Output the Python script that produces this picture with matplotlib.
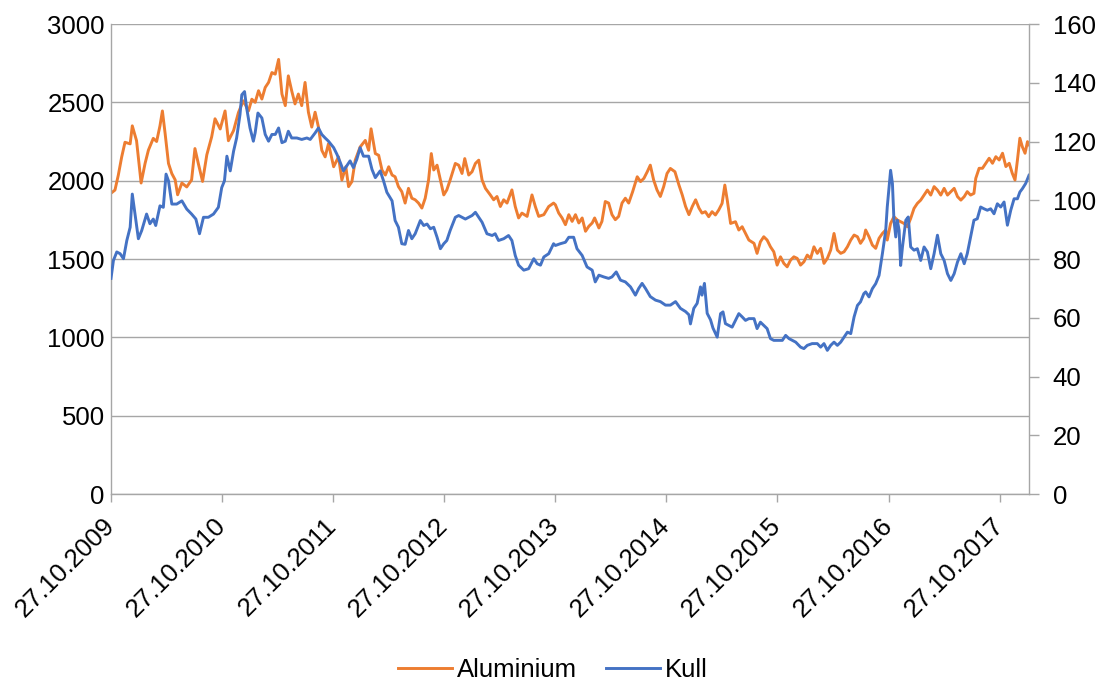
import matplotlib
matplotlib.use("Agg")
import matplotlib.pyplot as plt
import pandas as pd

# ---- data: aluminium price (USD/t, left axis) and coal price (USD/t, right axis)
start = pd.Timestamp("2009-10-27")

alu_days = [
    0, 13, 24, 35, 46, 63, 70, 84, 99, 112, 123, 139, 150, 161, 169, 178, 189, 200, 211, 219,
    233, 249, 265, 276, 287, 301, 315, 331, 342, 359, 375, 386, 403, 419, 435, 452, 463,
    474, 485, 496, 507, 518, 529, 540, 551, 562, 573, 583, 594, 605, 616, 627, 638, 649, 660, 671, 682,
    693, 704, 715, 732, 748, 759, 772, 781, 792, 803, 819, 836, 847, 855, 869, 880, 891, 902, 913, 924,
    934, 945, 956,
    967, 978, 989, 1000, 1011, 1022, 1033, 1044, 1053, 1061, 1072, 1083, 1094, 1104, 1115, 1132, 1143,
    1154, 1163, 1176, 1187, 1198, 1209, 1220, 1231, 1247, 1258, 1269, 1280, 1291, 1302, 1318, 1329,
    1340, 1351, 1368, 1384, 1395, 1406, 1423, 1439, 1455,
    1461, 1472, 1483, 1494, 1505, 1516, 1527, 1538, 1549, 1560, 1571, 1582, 1590, 1604, 1614, 1625,
    1636, 1647, 1658, 1669, 1680, 1691, 1702, 1715, 1730, 1741, 1752, 1763, 1773, 1784, 1795, 1806,
    1817, 1828, 1839, 1854, 1867, 1878, 1889, 1900, 1911, 1922, 1933, 1943,
    1954, 1965, 1976, 1987, 1998, 2009, 2018, 2026, 2037, 2053, 2064, 2075, 2086, 2097, 2114, 2124,
    2135, 2146, 2157, 2168, 2179, 2190, 2201, 2212, 2223, 2234, 2245, 2256, 2267, 2278, 2289, 2300,
    2311, 2322, 2333, 2344, 2355, 2366, 2377, 2388, 2399, 2410, 2421, 2432, 2443, 2454, 2464, 2475,
    2481, 2492, 2503, 2514, 2525, 2536, 2547, 2552, 2563, 2574, 2585, 2596, 2607, 2618, 2629, 2640,
    2651, 2662, 2673, 2684, 2695, 2706, 2717, 2728, 2739, 2750, 2761, 2772, 2783, 2794, 2805, 2815,
    2826, 2837, 2843, 2854, 2865, 2876, 2887, 2898, 2909, 2920, 2931, 2942, 2953, 2963, 2972, 2980,
    2988, 2996, 3005, 3013, 3022,
]
alu_usd = [
    1920, 1940, 2035, 2150, 2245, 2235, 2350, 2255, 1985, 2110, 2195, 2270, 2250, 2350, 2445, 2300,
    2110, 2045, 2005, 1910, 1985, 1960, 2005, 2205, 2110, 1995, 2165, 2280, 2395, 2330, 2445, 2255,
    2320, 2435, 2510, 2445, 2520,
    2500, 2574, 2521, 2595, 2627, 2690, 2680, 2774, 2553, 2479, 2669, 2574, 2490, 2553, 2479, 2627,
    2437, 2342, 2437, 2342, 2194, 2152, 2236, 2089, 2152, 2004, 2089, 1962, 1994, 2131, 2215, 2257,
    2194, 2331, 2173, 2162, 2067, 2036, 2089, 2036, 2025, 1962, 1930,
    1857, 1951, 1888, 1878, 1857, 1825, 1888, 2004, 2173, 2068, 2099, 2004, 1909, 1941, 2004, 2110,
    2099, 2046, 2141, 2036, 2057, 2110, 2131, 2004, 1951, 1909, 1878, 1899, 1835, 1878, 1857, 1941,
    1835, 1762, 1793, 1772, 1909, 1835, 1772, 1783, 1835, 1857,
    1846, 1793, 1762, 1719, 1783, 1740, 1783, 1730, 1762, 1677, 1709, 1730, 1762, 1698, 1740, 1867,
    1857, 1783, 1751, 1772, 1857, 1888, 1857, 1930, 2025, 1994, 2015, 2057, 2099, 2004, 1941, 1899,
    1962, 2046, 2078, 2057, 1973, 1909, 1835, 1783, 1835, 1878, 1825, 1793,
    1802, 1770, 1802, 1781, 1813, 1855, 1972, 1876, 1727, 1738, 1685, 1706, 1663, 1621, 1600, 1536,
    1610, 1642, 1621, 1578, 1546, 1461, 1514, 1472, 1450, 1493, 1514, 1504, 1461, 1482, 1525, 1504,
    1578, 1536, 1568, 1472, 1504, 1557, 1663, 1557, 1536, 1546, 1578, 1621, 1653, 1642, 1600, 1632,
    1685, 1642, 1589, 1568, 1632, 1663, 1685, 1621, 1727, 1770, 1749, 1738, 1727, 1706, 1759, 1823,
    1855, 1876, 1908, 1940, 1908, 1962, 1940, 1908, 1951, 1908, 1930, 1951, 1898, 1876, 1898, 1930,
    1908, 1919, 2015, 2079, 2079, 2111, 2143, 2111, 2153, 2132, 2175, 2090, 2111, 2047, 2004, 2132,
    2271, 2217, 2175, 2249, 2217,
]

coal_days = [
    0, 8, 19, 30, 41, 52, 63, 70, 79, 90, 101, 117, 128, 139, 147, 161, 172, 181, 189, 200,
    216, 233, 249, 265, 279, 291, 304, 320, 337, 353, 364, 373, 381, 392, 403, 413, 424, 430, 439, 446,
    457, 468,
    474, 483, 496, 507, 518, 529, 540, 551, 562, 573, 583, 594, 611, 627, 644, 655, 671, 682, 693, 704,
    715, 732, 743, 754, 764, 775, 786, 797, 808, 819, 830, 847, 858, 869, 885, 896, 907, 924, 934, 945,
    956,
    967, 978, 989, 1000, 1017, 1028, 1039, 1050, 1061, 1072, 1083, 1094, 1104, 1115, 1132, 1143, 1154,
    1165, 1176, 1187, 1198, 1209, 1220, 1236, 1253, 1263, 1274, 1291, 1307, 1318, 1329, 1340, 1357,
    1373, 1390, 1401, 1412, 1423, 1439, 1455,
    1461, 1477, 1494, 1505, 1521, 1532, 1549, 1565, 1582, 1592, 1604, 1620, 1636, 1647, 1661, 1675,
    1691, 1708, 1724, 1735, 1746, 1757, 1773, 1790, 1806, 1823, 1839, 1856, 1872, 1889, 1900, 1905,
    1916, 1927, 1938, 1943, 1951, 1960, 1971, 1979, 1993,
    2004, 2012, 2020, 2031, 2042, 2053, 2064, 2075, 2086, 2097, 2114, 2124, 2135, 2146, 2157, 2168,
    2179, 2190, 2207, 2218, 2229, 2240, 2251, 2267, 2278, 2289, 2305, 2322, 2333, 2344, 2355, 2366,
    2377, 2388, 2399, 2410, 2421, 2432, 2443, 2454, 2464, 2475,
    2481, 2492, 2503, 2514, 2525, 2536, 2547, 2552, 2558, 2563, 2569, 2574, 2580, 2585, 2591, 2596,
    2602, 2613, 2621, 2629, 2640, 2651, 2662, 2673, 2684, 2695, 2706, 2717, 2728, 2739, 2750, 2761,
    2772, 2783, 2794, 2805, 2815, 2826, 2837, 2848, 2859, 2870, 2881, 2892, 2903, 2914, 2925, 2936,
    2947, 2958, 2969, 2980, 2988, 2996, 3007, 3018,
]
coal_usd = [
    73.4, 79.5, 82.4, 81.8, 80.1, 86.3, 90.8, 102.1, 95.3, 86.9, 89.7, 95.3, 92.0, 93.6, 91.4, 98.1,
    97.6, 108.9, 106.6, 98.7, 98.7, 99.8, 97.0, 95.3, 93.6, 88.6, 94.2, 94.2, 95.3, 97.6, 104.3, 106.6,
    115.0, 110.0, 116.7, 121.2, 129.1, 135.9, 137.0, 131.4, 124.6, 120.1,
    123.0, 129.7, 128.0, 122.4, 120.1, 122.4, 122.4, 124.6, 119.6, 120.1, 123.5, 121.2, 121.2, 120.7,
    121.2, 120.7, 122.9, 124.6, 122.4, 121.2, 120.1, 117.9, 115.6, 112.8, 110.0, 111.7, 113.4, 111.1,
    113.9, 117.9, 115.0, 115.0, 110.5, 107.7, 110.0, 106.6, 102.7, 99.8, 93.1, 90.8, 85.2,
    85.0, 89.7, 86.9, 88.6, 93.1, 91.4, 91.9, 90.3, 90.8, 87.4, 83.5, 85.2, 86.3, 89.7, 94.2, 94.8,
    94.2, 93.6, 94.2, 94.8, 95.9, 94.2, 92.5, 88.6, 88.0, 88.6, 86.3, 86.9, 88.0, 86.3, 81.2, 77.9,
    76.2, 76.7, 80.1, 78.4, 77.9, 80.7, 81.8, 85.2,
    84.6, 85.2, 85.7, 87.4, 87.4, 83.5, 81.2, 77.3, 76.2, 72.2, 74.5, 73.9, 73.4, 73.9, 75.6, 72.8,
    72.2, 70.5, 67.7, 70.0, 71.7, 70.0, 67.2, 66.0, 65.5, 64.3, 64.3, 65.5, 63.2, 62.1, 61.0, 57.9,
    63.2, 64.9, 70.5, 67.7, 71.7, 61.5, 59.3, 56.5, 53.4,
    61.4, 62.0, 58.0, 57.4, 56.8, 59.1, 61.4, 60.3, 59.1, 59.7, 59.7, 56.3, 58.5, 57.4, 56.3, 52.9,
    52.3, 52.3, 52.3, 54.0, 52.9, 52.3, 51.7, 50.0, 49.5, 50.6, 51.2, 51.2, 50.0, 51.2, 48.9, 50.6,
    51.7, 50.6, 51.7, 53.4, 55.1, 54.6, 60.3, 64.2, 65.4, 68.2,
    68.8, 67.1, 69.9, 71.6, 74.4, 81.8, 89.8, 97.7, 104.5, 110.2, 105.7, 93.2, 87.5, 93.2, 89.8, 77.8,
    84.1, 93.2, 94.3, 84.1, 83.0, 83.5, 79.5, 84.1, 82.4, 76.7, 81.8, 88.1, 81.8, 79.5, 75.0, 72.7,
    75.0, 79.0, 81.8, 78.4, 81.8, 87.5, 93.2, 93.7, 97.7, 97.1, 96.6, 97.1, 95.4, 98.8, 97.7, 99.4,
    91.5, 96.6, 100.5, 100.5, 102.8, 103.9, 105.7, 108.5,
]

tick_years = list(range(2009, 2018))
left_ticks = list(range(0, 3001, 500))
right_ticks = list(range(0, 161, 20))

ORANGE = "#ED7D31"
BLUE = "#4472C4"
GRAY = "#A6A6A6"

plt.rcParams["font.family"] = ["Liberation Sans", "DejaVu Sans"]
FS = 18.5

alu_dates = start + pd.to_timedelta(alu_days, unit="D")
coal_dates = start + pd.to_timedelta(coal_days, unit="D")

fig = plt.figure(figsize=(11.06, 6.86), dpi=100)
ax = fig.add_axes([0.10036, 0.27988, 0.83002, 0.68513])
ax2 = ax.twinx()

l1, = ax.plot(alu_dates, alu_usd, color=ORANGE, lw=2.1, label="Aluminium",
              solid_joinstyle="round")
l2, = ax2.plot(coal_dates, coal_usd, color=BLUE, lw=2.1, label="Kull",
               solid_joinstyle="round")

# axes ranges
ax.set_xlim(start, coal_dates[-1])
ax.set_ylim(0, 3000)
ax2.set_ylim(0, 160)

# left axis: gridlines, no tick marks
ax.set_yticks(left_ticks)
ax.yaxis.grid(True, color=GRAY, lw=1.0)
ax.set_axisbelow(True)
ax.tick_params(axis="y", length=0, pad=4.5, labelsize=FS)

# right axis: outward ticks
ax2.set_yticks(right_ticks)
ax2.tick_params(axis="y", length=7, width=1.0, color=GRAY, pad=10, labelsize=FS)

# date axis
xt = [pd.Timestamp(f"{y}-10-27") for y in tick_years]
ax.set_xticks(xt)
ax.set_xticklabels([t.strftime("%d.%m.%Y") for t in xt])
ax.tick_params(axis="x", length=6, width=1.0, color=GRAY, pad=14, labelsize=FS)
for lab in ax.get_xticklabels():
    lab.set_rotation(45)
    lab.set_ha("right")
    lab.set_va("center")
    lab.set_rotation_mode("anchor")

for a in (ax, ax2):
    a.spines["top"].set_visible(False)
    for s in ("left", "right", "bottom"):
        a.spines[s].set_color(GRAY)
        a.spines[s].set_linewidth(1.0)
ax.spines["right"].set_visible(False)
ax2.spines["left"].set_visible(False)
ax2.spines["bottom"].set_visible(False)

fig.legend(handles=[l1, l2], loc="center", bbox_to_anchor=(0.5, 1 - 670 / 686),
           ncol=2, frameon=False, fontsize=FS, handlelength=2.1, handletextpad=0.2,
           columnspacing=1.1)

fig.savefig("out.png", dpi=100)
